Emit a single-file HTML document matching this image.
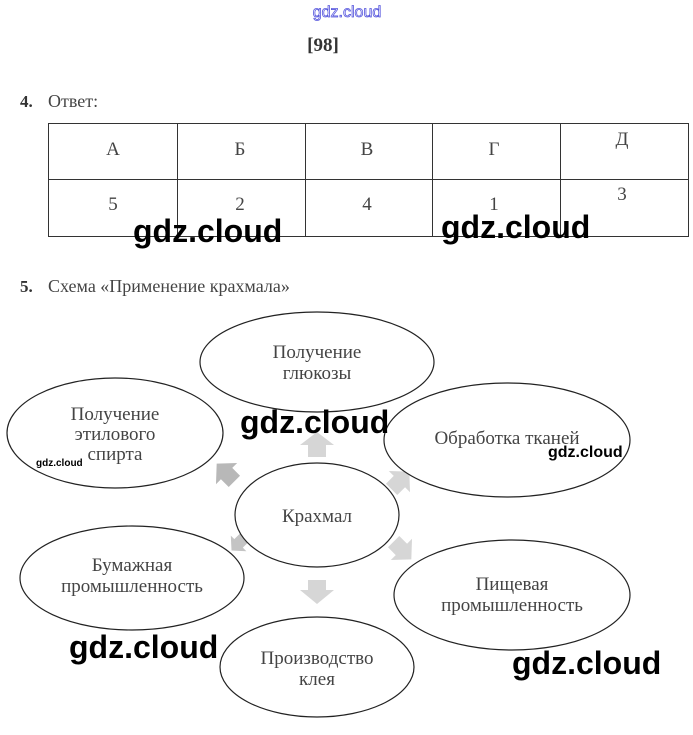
<!DOCTYPE html>
<html><head><meta charset="utf-8"><style>
body{margin:0;width:693px;height:735px;background:#fff;overflow:hidden}
svg{display:block}
.s{font-family:"Liberation Serif",serif;fill:#444}
.w{font-family:"Liberation Sans",sans-serif;font-weight:bold;fill:#000}
</style></head><body>
<svg width="693" height="735" viewBox="0 0 693 735">
<text x="347" y="17" text-anchor="middle" font-family="Liberation Sans,sans-serif" font-size="16" fill="#fff" stroke="#5555dd" stroke-width="0.8">gdz.cloud</text>
<text x="323" y="51" text-anchor="middle" class="s" font-size="19" font-weight="bold" style="fill:#333">[98]</text>
<text x="20" y="107" class="s" font-size="17" font-weight="bold" style="fill:#333">4.</text>
<text x="48" y="107" class="s" font-size="18">Ответ:</text>
<g stroke="#333" stroke-width="1" fill="none">
<rect x="48.5" y="123.5" width="640" height="113"/>
<line x1="48" y1="179.5" x2="688" y2="179.5"/>
<line x1="177.5" y1="123" x2="177.5" y2="236"/>
<line x1="305.5" y1="123" x2="305.5" y2="236"/>
<line x1="432.5" y1="123" x2="432.5" y2="236"/>
<line x1="560.5" y1="123" x2="560.5" y2="236"/>
</g>
<g class="s" font-size="19" text-anchor="middle">
<text x="113" y="155">А</text><text x="240" y="155">Б</text><text x="367" y="155">В</text><text x="494" y="155">Г</text><text x="622" y="145">Д</text>
<text x="113" y="210">5</text><text x="240" y="210">2</text><text x="367" y="210">4</text><text x="494" y="210">1</text><text x="622" y="200">3</text>
</g>
<text x="20" y="292" class="s" font-size="17" font-weight="bold" style="fill:#333">5.</text>
<text x="48" y="292" class="s" font-size="18">Схема «Применение крахмала»</text>
<g fill="#d6d6d6">
<polygon points="308,457 326,457 326,445 334,445 317,432 300,445 308,445"/>
<polygon points="308,580 326,580 326,590 334,590 317,604 300,590 308,590"/>
<g transform="translate(228,475) rotate(135)"><polygon points="-8,-9 8,-9 8,2 15,2 0,16 -15,2 -8,2" fill="#b8b8b8"/></g>
<g transform="translate(398,483) rotate(-135)"><polygon points="-8,-9 8,-9 8,2 15,2 0,16 -15,2 -8,2"/></g>
<g transform="translate(400,548) rotate(-45)"><polygon points="-8,-9 8,-9 8,2 15,2 0,16 -15,2 -8,2"/></g>
<g transform="translate(240,542) rotate(45)"><polygon points="-6,-8 6,-8 6,2 11,2 0,12 -11,2 -6,2" fill="#c4c4c4"/></g>
</g>
<g fill="#fff" stroke="#222" stroke-width="1.2">
<ellipse cx="317" cy="362" rx="117" ry="50"/>
<ellipse cx="115" cy="433" rx="108" ry="55"/>
<ellipse cx="507" cy="440" rx="123" ry="57"/>
<ellipse cx="317" cy="515" rx="82" ry="52"/>
<ellipse cx="132" cy="578" rx="112" ry="52"/>
<ellipse cx="512" cy="595" rx="118" ry="55"/>
<ellipse cx="317" cy="667" rx="97" ry="50"/>
</g>
<g class="s" font-size="19" text-anchor="middle">
<text x="317" y="358">Получение</text><text x="317" y="379">глюкозы</text>
<text x="115" y="420">Получение</text><text x="115" y="440">этилового</text><text x="115" y="460">спирта</text>
<text x="507" y="444">Обработка тканей</text>
<text x="317" y="522">Крахмал</text>
<text x="132" y="571">Бумажная</text><text x="132" y="592">промышленность</text>
<text x="512" y="590">Пищевая</text><text x="512" y="611">промышленность</text>
<text x="317" y="664">Производство</text><text x="317" y="685">клея</text>
</g>
<g class="w" font-size="32">
<text x="133" y="242">gdz.cloud</text>
<text x="441" y="238">gdz.cloud</text>
<text x="240" y="433">gdz.cloud</text>
<text x="69" y="658">gdz.cloud</text>
<text x="512" y="674">gdz.cloud</text>
</g>
<text x="36" y="466" class="w" font-size="10">gdz.cloud</text>
<text x="548" y="457" class="w" font-size="16">gdz.cloud</text>
</svg>
</body></html>
